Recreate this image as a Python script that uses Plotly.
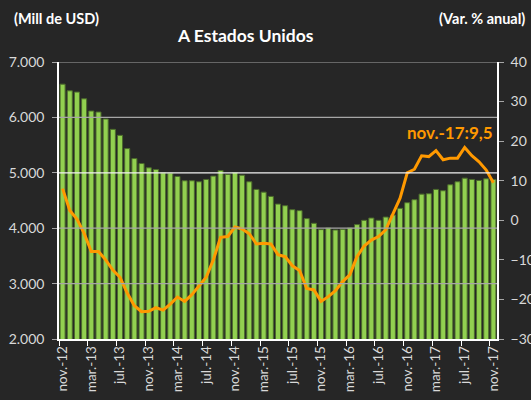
import plotly.graph_objects as go

months = [
    "nov.-12", "dic.-12", "ene.-13", "feb.-13", "mar.-13", "abr.-13", "may.-13", "jun.-13",
    "jul.-13", "ago.-13", "sep.-13", "oct.-13", "nov.-13", "dic.-13", "ene.-14", "feb.-14",
    "mar.-14", "abr.-14", "may.-14", "jun.-14", "jul.-14", "ago.-14", "sep.-14", "oct.-14",
    "nov.-14", "dic.-14", "ene.-15", "feb.-15", "mar.-15", "abr.-15", "may.-15", "jun.-15",
    "jul.-15", "ago.-15", "sep.-15", "oct.-15", "nov.-15", "dic.-15", "ene.-16", "feb.-16",
    "mar.-16", "abr.-16", "may.-16", "jun.-16", "jul.-16", "ago.-16", "sep.-16", "oct.-16",
    "nov.-16", "dic.-16", "ene.-17", "feb.-17", "mar.-17", "abr.-17", "may.-17", "jun.-17",
    "jul.-17", "ago.-17", "sep.-17", "oct.-17", "nov.-17",
]

exports_musd = [
    6600, 6480, 6457, 6336, 6115, 6097, 5971, 5784, 5676, 5437,
    5257, 5167, 5090, 5060, 5000, 4995, 4933, 4856, 4856, 4838,
    4880, 4940, 5041, 4970, 5005, 4957, 4838, 4700, 4651, 4574,
    4435, 4406, 4334, 4317, 4173, 4088, 3975, 4004, 3968, 3980,
    4004, 4065, 4142, 4183, 4142, 4201, 4237, 4358, 4460, 4514,
    4615, 4622, 4700, 4676, 4784, 4838, 4903, 4880, 4862, 4892,
    4880,
]

var_anual = [
    8.0, 2.5, 0.3, -3.3, -7.9, -7.9, -10.0, -12.6, -14.4, -18.4,
    -21.6, -23.1, -23.0, -22.1, -22.7, -21.2, -19.4, -20.5, -18.8, -16.6,
    -14.4, -10.0, -4.3, -4.1, -1.7, -2.2, -3.4, -6.0, -5.8, -6.0,
    -8.7, -9.2, -11.5, -12.7, -17.2, -17.6, -20.5, -19.3, -17.8, -15.5,
    -13.8, -9.2, -6.5, -5.0, -4.1, -2.4, 1.4, 5.6, 12.0, 12.9,
    16.3, 16.1, 17.6, 15.3, 15.7, 15.7, 18.4, 16.3, 14.8, 12.7,
    9.5,
]

left_ticks = [2000, 3000, 4000, 5000, 6000, 7000]
right_ticks = [-30, -20, -10, 0, 10, 20, 30, 40]
gray_grid = [3000, 4000, 6000, 7000]
white_grid = [5000]

idx = list(range(len(months)))
label_idx = idx[::4]

BG = "#262626"
FONT = "Lato, 'Open Sans', sans-serif"
TXT = "#d9d9d9"

fig = go.Figure()
fig.add_trace(go.Bar(
    x=idx, y=exports_musd, yaxis="y",
    marker=dict(color="#92d050", line=dict(color="#4c6b2c", width=1)),
    showlegend=False,
))
fig.add_trace(go.Scatter(
    x=idx, y=var_anual, yaxis="y2", mode="lines",
    line=dict(color="#ff9900", width=3),
    showlegend=False,
))

shapes = []
for v in gray_grid:
    shapes.append(dict(type="line", xref="paper", x0=0, x1=1, yref="y", y0=v, y1=v,
                       line=dict(color="#a6a6a6", width=1.2), layer="above"))
for v in white_grid:
    shapes.append(dict(type="line", xref="paper", x0=0, x1=1, yref="y", y0=v, y1=v,
                       line=dict(color="#f2f2f2", width=1.2), layer="above"))

last_label = f"{months[-1]}:{str(var_anual[-1]).replace('.', ',')}"

fig.update_layout(
    template="none",
    width=531, height=400,
    margin=dict(l=59, r=34, t=62, b=61, autoexpand=False),
    paper_bgcolor=BG, plot_bgcolor=BG,
    separators=",.",
    bargap=0.3,
    font=dict(family=FONT, color=TXT),
    shapes=shapes,
    xaxis=dict(
        range=[-0.5, len(months) - 0.5],
        tickvals=label_idx,
        ticktext=[months[i] for i in label_idx],
        tickangle=-90,
        ticks="",
        automargin=False,
        tickfont=dict(size=13.5, color=TXT, family=FONT),
        showgrid=False, zeroline=False,
        showline=True, linecolor="#ffffff", linewidth=1.5,
        minor=dict(tickvals=[i - 0.5 for i in label_idx], ticks="outside",
                   ticklen=5, tickcolor="#ffffff", tickwidth=1, showgrid=False),
    ),
    yaxis=dict(
        range=[left_ticks[0], left_ticks[-1]],
        tickvals=left_ticks,
        tickformat=",.0f",
        automargin=False,
        ticklabelstandoff=5,
        tickfont=dict(size=14, color=TXT, family=FONT),
        ticks="outside", ticklen=5, tickcolor="#a6a6a6",
        showgrid=False, zeroline=False,
        showline=True, linecolor="#ffffff", linewidth=1.5,
    ),
    yaxis2=dict(
        range=[right_ticks[0], right_ticks[-1]],
        tickvals=right_ticks,
        overlaying="y", side="right",
        automargin=False,
        ticklabelstandoff=4,
        tickfont=dict(size=14, color=TXT, family=FONT),
        ticks="outside", ticklen=5, tickcolor="#a6a6a6",
        showgrid=False, zeroline=False,
        showline=True, linecolor="#ffffff", linewidth=1.5,
    ),
    annotations=[
        dict(text="<b>A Estados Unidos</b>", xref="paper", yref="paper",
             x=0.426, y=1.097, xanchor="center", yanchor="middle", showarrow=False,
             font=dict(size=17.5, color="#ffffff", family=FONT)),
        dict(text="<b>(Mill de USD)</b>", xref="paper", yref="paper",
             x=-0.108, y=1.158, xanchor="left", yanchor="middle", showarrow=False,
             font=dict(size=14.5, color="#ffffff", family=FONT)),
        dict(text="<b>(Var. % anual)</b>", xref="paper", yref="paper",
             x=1.068, y=1.158, xanchor="right", yanchor="middle", showarrow=False,
             font=dict(size=14.5, color="#ffffff", family=FONT)),
        dict(text=f"<b>{last_label}</b>", xref="x", yref="y2",
             x=len(months) - 0.8, y=22.1, xanchor="right", yanchor="middle",
             showarrow=False, font=dict(size=17, color="#ff9900", family=FONT)),
    ],
)

fig.write_html(
    "out.html",
    config={"displayModeBar": False},
    post_script=(
        "document.body.style.margin='0';"
        "document.body.style.background='#262626';"
        "document.body.style.overflow='hidden';"
    ),
)
